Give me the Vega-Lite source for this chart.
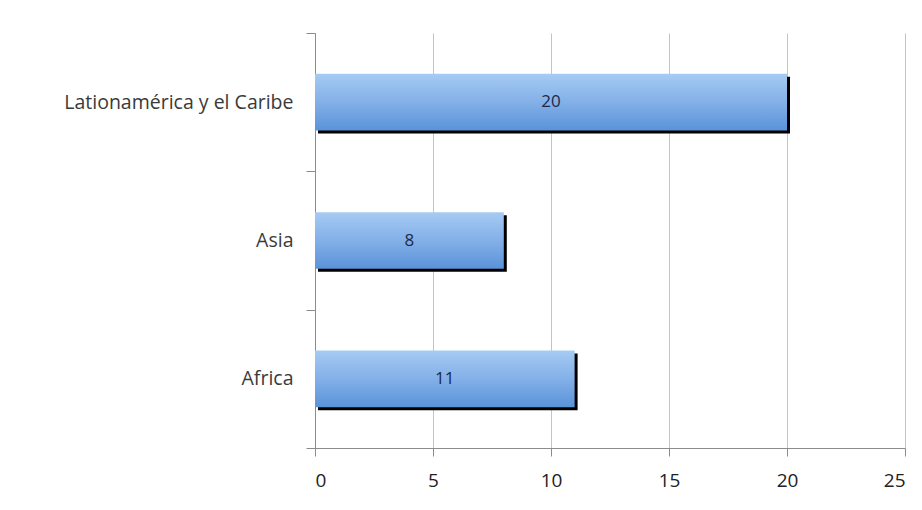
{
  "$schema": "https://vega.github.io/schema/vega-lite/v6.json",
  "autosize": {"type": "none"},
  "width": 590,
  "height": 415,
  "padding": {"left": 315, "top": 33, "right": 17, "bottom": 62},
  "background": "#ffffff",
  "data": {
    "values": [
      {"region": "Lationamérica y el Caribe", "value": 20},
      {"region": "Asia", "value": 8},
      {"region": "Africa", "value": 11}
    ]
  },
  "encoding": {
    "y": {
      "field": "region",
      "type": "nominal",
      "sort": null,
      "title": null,
      "scale": {"paddingInner": 0, "paddingOuter": 0},
      "axis": {
        "tickBand": "extent",
        "domainColor": "#8c8c8c",
        "tickColor": "#8c8c8c",
        "tickSize": 9,
        "labelFont": "Open Sans",
        "labelFontSize": 19.5,
        "labelColor": "#3a3a3a",
        "labelPadding": 13,
        "labelLimit": 400,
        "grid": false
      }
    }
  },
  "layer": [
    {
      "mark": {"type": "bar", "color": "#000000", "xOffset": 3, "yOffset": 3, "height": {"band": 0.41}},
      "encoding": {
        "x": {"field": "value", "type": "quantitative"}
      }
    },
    {
      "mark": {
        "type": "bar",
        "height": {"band": 0.41},
        "color": {
          "gradient": "linear",
          "x1": 0, "y1": 0, "x2": 0, "y2": 1,
          "stops": [
            {"offset": 0, "color": "#a6cbf3"},
            {"offset": 0.5, "color": "#83b0e8"},
            {"offset": 1, "color": "#5a93d9"}
          ]
        }
      },
      "encoding": {
        "x": {
          "field": "value",
          "type": "quantitative",
          "title": null,
          "scale": {"domain": [0, 25], "nice": false},
          "axis": {
            "values": [0, 5, 10, 15, 20, 25],
            "grid": true,
            "gridColor": "#c4c4c4",
            "domainColor": "#8c8c8c",
            "tickColor": "#8c8c8c",
            "tickSize": 8,
            "labelFont": "Open Sans",
            "labelFontSize": 19,
            "labelColor": "#222222",
            "labelPadding": 15
          }
        }
      }
    },
    {
      "transform": [{"calculate": "datum.value / 2", "as": "mid"}],
      "mark": {"type": "text", "font": "Open Sans", "fontSize": 17, "color": "#1c2a48", "baseline": "middle"},
      "encoding": {
        "x": {"field": "mid", "type": "quantitative"},
        "text": {"field": "value", "type": "quantitative"}
      }
    }
  ],
  "config": {"view": {"stroke": null}}
}
